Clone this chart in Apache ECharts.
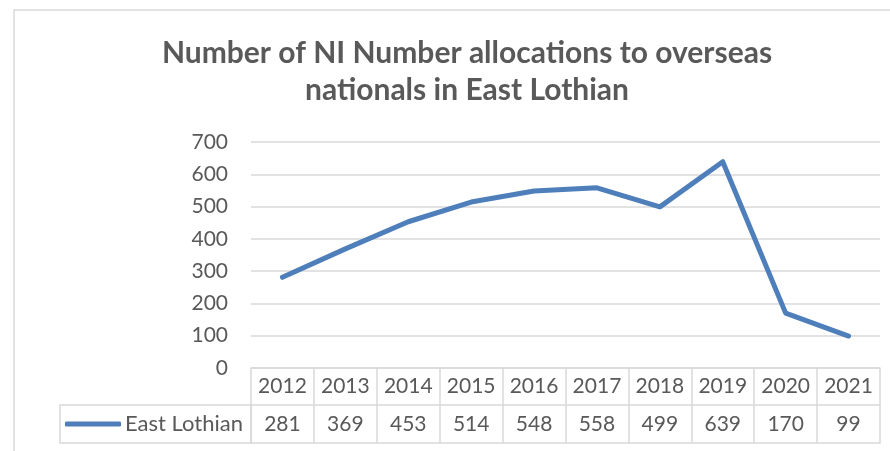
<!DOCTYPE html>
<html><head><meta charset="utf-8">
<script src="https://cdn.jsdelivr.net/npm/echarts@6/dist/echarts.min.js"></script>
<style>html,body{margin:0;padding:0;background:#fff}#c{width:890px;height:451px}</style>
</head><body><div id="c"></div>
<script>
const titleText = 'Number of NI Number allocations to overseas\nnationals in East Lothian';
const seriesName = 'East Lothian';
const years = ['2012','2013','2014','2015','2016','2017','2018','2019','2020','2021'];
const values = [281, 369, 453, 514, 548, 558, 499, 639, 170, 99];
const yTicks = {min: 0, max: 700, interval: 100};

const txt = '#595959', grid = '#d9d9d9', blue = '#4E7FBB';
const font = 'Lato, "Open Sans", sans-serif';
const chart = echarts.init(document.getElementById('c'));
chart.setOption({
  animation: false,
  title: {text: titleText, left: 462, top: 30, textAlign: 'center',
    textStyle: {fontFamily: font, fontSize: 30, fontWeight: 'bold', color: txt, lineHeight: 37}},
  legend: {left: 60, top: 408, itemWidth: 56, itemHeight: 5, itemGap: 5, icon: 'roundRect',
    textStyle: {fontFamily: font, fontSize: 22, color: txt, padding: [0, 0, 0, -1]},
    data: [{name: seriesName, itemStyle: {color: blue}}]},
  grid: {left: 251, right: 10, top: 142, bottom: 83},
  xAxis: [
    {type: 'category', data: years, position: 'bottom', boundaryGap: true,
      axisLine: {show: true, lineStyle: {color: grid, width: 1.5}},
      axisTick: {show: true, length: 37, lineStyle: {color: grid, width: 1.5}},
      axisLabel: {fontFamily: font, fontSize: 21, color: txt, margin: 18, verticalAlign: 'middle', interval: 0}},
    {type: 'category', data: values.map(String), position: 'bottom', offset: 37, boundaryGap: true,
      axisLine: {show: true, lineStyle: {color: grid, width: 1.5}},
      axisTick: {show: true, length: 38, lineStyle: {color: grid, width: 1.5}},
      axisLabel: {fontFamily: font, fontSize: 21, color: txt, margin: 19, verticalAlign: 'middle', interval: 0}},
    {type: 'category', data: years, position: 'bottom', offset: 75, boundaryGap: true,
      axisLine: {show: true, lineStyle: {color: grid, width: 1.5}},
      axisTick: {show: false}, axisLabel: {show: false}}
  ],
  yAxis: {type: 'value', min: yTicks.min, max: yTicks.max, interval: yTicks.interval,
    axisLine: {show: false}, axisTick: {show: false},
    splitLine: {lineStyle: {color: grid, width: 1.5}},
    axisLabel: {fontFamily: font, fontSize: 21, color: txt, margin: 23}},
  series: [{name: seriesName, type: 'line', data: values, xAxisIndex: 0,
    showSymbol: false, symbol: 'none', lineStyle: {color: blue, width: 5, cap: 'round', join: 'round'},
    itemStyle: {color: blue}}],
  graphic: [
    {type: 'rect', shape: {x: 14, y: 10, width: 900, height: 500}, style: {fill: 'none', stroke: grid, lineWidth: 1.5}, silent: true, z: -1},
    {type: 'rect', shape: {x: 60, y: 405, width: 191, height: 38}, style: {fill: 'none', stroke: grid, lineWidth: 1.5}, silent: true}
  ]
});
</script></body></html>
